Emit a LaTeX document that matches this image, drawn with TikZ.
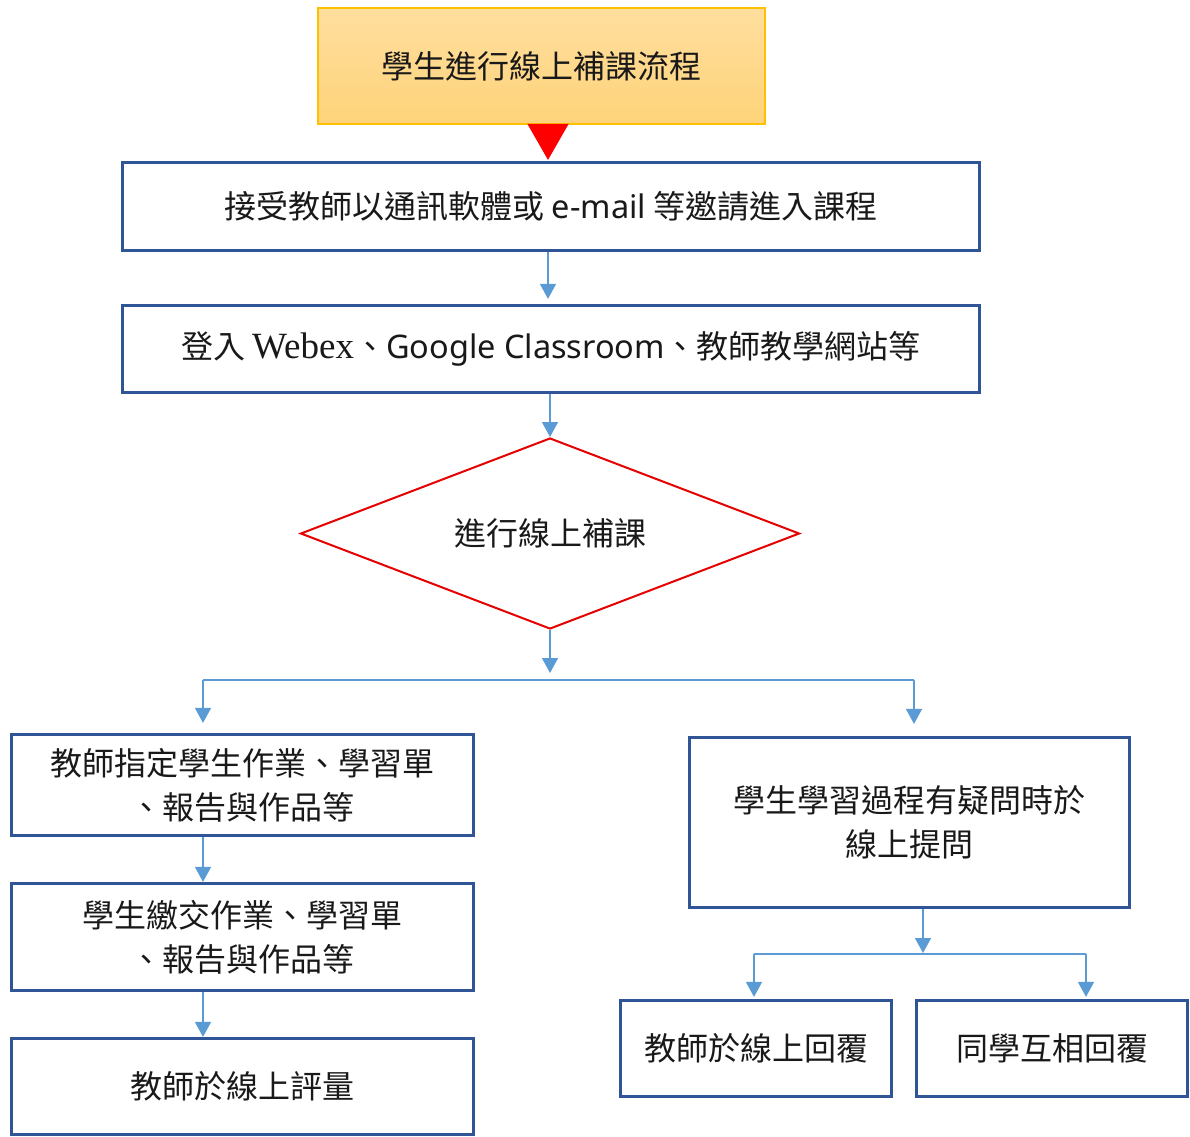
\documentclass[tikz,border=0pt]{standalone}
\usepackage{fontspec}
\setmainfont{Noto Sans CJK TC}
\newfontfamily\latsans{Noto Sans}
\newfontfamily\latserif{Liberation Serif}
\usetikzlibrary{arrows.meta,shapes.geometric,calc}
\definecolor{boxblue}{RGB}{47,85,151}
\definecolor{arrblue}{RGB}{91,155,213}
\definecolor{topborder}{RGB}{255,192,0}
\definecolor{toptop}{RGB}{255,222,158}
\definecolor{topbot}{RGB}{254,211,122}
\definecolor{diared}{RGB}{230,0,0}
\tikzset{
  txt/.style={font=\fontsize{32}{44}\selectfont, align=center, text=black!90},
  stepbox/.style={draw=boxblue, line width=3.2pt, rectangle, inner sep=0pt, txt},
  arr/.style={draw=arrblue, line width=1.5pt, -{Triangle[width=16pt,length=15pt]}},
  ln/.style={draw=arrblue, line width=1.5pt},
}
\begin{document}
\begin{tikzpicture}[x=1pt,y=-1pt]
\useasboundingbox (0,0) rectangle (1190,1136);
% title box
\node[rectangle, draw=topborder, line width=1.5pt, top color=toptop, bottom color=topbot,
      minimum width=447pt, minimum height=116pt, inner sep=0pt, txt] (top) at (541.5,66) {學生進行線上補課流程};
% step boxes
\node[stepbox, minimum width=857pt, minimum height=88pt] (b2) at (551,206.5)
  {接受教師以通訊軟體或 {\latsans\fontsize{32.5}{44}\selectfont e-mail} 等邀請進入課程};
\node[stepbox, minimum width=857pt, minimum height=87pt] (b3) at (551,349)
  {登入 {\latserif\fontsize{37}{44}\selectfont Webex}、{\latsans\fontsize{32.5}{44}\selectfont Google Classroom}、教師教學網站等};
% decision
\node[diamond, aspect=2.6, draw=diared, line width=2pt, minimum width=499pt, minimum height=191pt, inner sep=0pt, txt] (d) at (550,533.5) {進行線上補課};
% left column
\node[stepbox, minimum width=462pt, minimum height=101pt] (L1) at (242.5,785)
  {教師指定學生作業、學習單\\、報告與作品等};
\node[stepbox, minimum width=462pt, minimum height=107pt] (L2) at (242.5,937)
  {學生繳交作業、學習單\\、報告與作品等};
\node[stepbox, minimum width=462pt, minimum height=96pt] (L3) at (242.5,1086.5)
  {教師於線上評量};
% right column
\node[stepbox, minimum width=440pt, minimum height=170pt] (R) at (909.5,822.5)
  {學生學習過程有疑問時於\\線上提問};
\node[stepbox, minimum width=271pt, minimum height=96pt] (R1) at (756,1048.5) {教師於線上回覆};
\node[stepbox, minimum width=271pt, minimum height=96pt] (R2) at (1052,1048.5) {同學互相回覆};
% coordinates
\coordinate (c1) at (548,0);
\coordinate (j1) at (550,673);
\coordinate (hl) at (203,680);
\coordinate (hr) at (914,680);
\coordinate (rj) at (923,953);
\coordinate (rl) at (754,954);
\coordinate (rr) at (1086,954);
% connectors
\draw[red, line width=1pt, -{Triangle[width=41pt,length=36pt]}] (top.south -| c1) -- ($(b2.north -| c1)+(0,-1)$);
\draw[arr, shorten >=5pt] (b2.south -| c1) -- (b3.north -| c1);
\draw[arr] (b3.south -| d.north) -- (d.north);
\draw[arr] (d.south) -- (j1);
\draw[ln] (hl) -- (hr);
\draw[arr, shorten >=10pt] (hl) -- (hl |- L1.north);
\draw[arr, shorten >=12pt] (hr) -- (hr |- R.north);
\draw[arr] (L1.south -| hl) -- (hl |- L2.north);
\draw[arr] (L2.south -| hl) -- (hl |- L3.north);
\draw[arr] (R.south -| rj) -- (rj);
\draw[ln] (rl) -- (rr);
\draw[arr, shorten >=2pt] (rl) -- (rl |- R1.north);
\draw[arr, shorten >=2pt] (rr) -- (rr |- R2.north);
\end{tikzpicture}
\end{document}
